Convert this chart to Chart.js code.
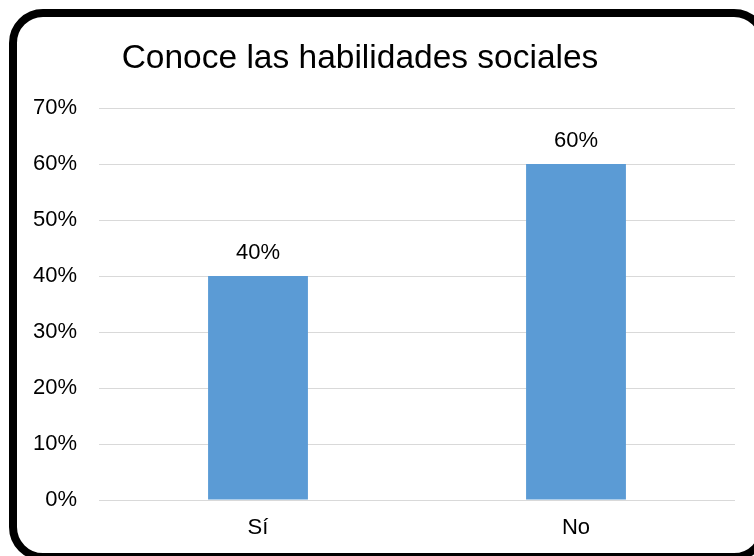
<!DOCTYPE html>
<html>
<head>
<meta charset="utf-8">
<script src="https://cdn.jsdelivr.net/npm/chart.js@4/dist/chart.umd.min.js"></script>
<style>
    html, body { margin: 0; padding: 0; background: #fff; overflow: hidden; }
    .wrap { position: relative; width: 754px; height: 556px; overflow: hidden; }
    .frame { position: absolute; left: 9px; top: 9px; width: 759px; height: 552px; box-sizing: border-box; border: 8px solid #000; border-radius: 34px; pointer-events: none; }
    canvas { position: absolute; left: 0; top: 0; }
</style>
</head>
<body>
<div class="wrap">
    <canvas id="chart" width="754" height="556"></canvas>
    <div class="frame"></div>
</div>
<script>
const categories = ['Sí', 'No'];
const values = [40, 60];
const tickValues = [0, 10, 20, 30, 40, 50, 60, 70];
const chartTitle = 'Conoce las habilidades sociales';

const FONT = 'Liberation Sans, Arial, sans-serif';

// title, placed like in the original (centred on the frame, not the plot)
const titlePlugin = {
    id: 'titlePlugin',
    afterDraw(chart) {
        const ctx = chart.ctx;
        ctx.save();
        ctx.font = '33.5px ' + FONT;
        ctx.fillStyle = '#000';
        ctx.textAlign = 'center';
        ctx.textBaseline = 'alphabetic';
        ctx.fillText(chartTitle, 360, 68);
        ctx.restore();
    }
};

// value labels above the bars
const barLabels = {
    id: 'barLabels',
    afterDatasetsDraw(chart) {
        const ctx = chart.ctx;
        const meta = chart.getDatasetMeta(0);
        ctx.save();
        ctx.font = '22px ' + FONT;
        ctx.fillStyle = '#000';
        ctx.textAlign = 'center';
        ctx.textBaseline = 'middle';
        meta.data.forEach((bar, i) => {
            ctx.fillText(values[i] + '%', bar.x, bar.y - 23);
        });
        ctx.restore();
    }
};

new Chart(document.getElementById('chart'), {
    type: 'bar',
    data: {
        labels: categories,
        datasets: [{
            data: values,
            backgroundColor: '#5b9bd5',
            barPercentage: 0.314,
            categoryPercentage: 1
        }]
    },
    options: {
        responsive: false,
        animation: false,
        layout: { padding: { left: 17, right: 19, top: 108, bottom: 0 } },
        plugins: {
            legend: { display: false },
            tooltip: { enabled: false },
            title: { display: false }
        },
        scales: {
            y: {
                min: 0,
                max: 70,
                afterFit: (s) => { s.width = 82; },
                afterBuildTicks: (s) => { s.ticks = tickValues.map(v => ({ value: v })); },
                border: { display: false },
                grid: { color: '#d9d9d9', lineWidth: 1, drawTicks: false },
                ticks: {
                    color: '#000',
                    padding: 22,
                    font: { family: FONT, size: 22 },
                    callback: (v) => v + '%'
                }
            },
            x: {
                afterFit: (s) => { s.height = 56; },
                border: { display: false },
                grid: { display: false, drawTicks: false },
                ticks: {
                    color: '#000',
                    padding: 15,
                    font: { family: FONT, size: 22 }
                }
            }
        }
    },
    plugins: [barLabels, titlePlugin]
});
</script>
</body>
</html>
